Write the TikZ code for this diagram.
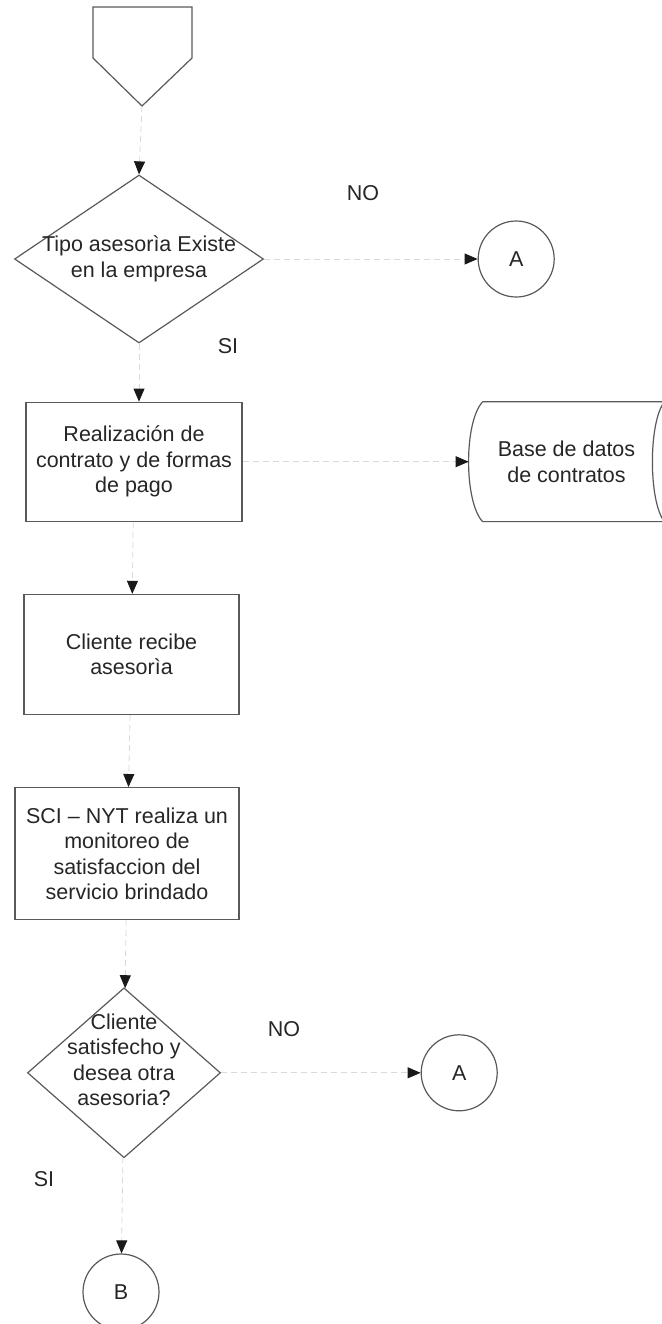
\documentclass[tikz,border=0pt]{standalone}
\usepackage{fontspec}
\setmainfont{Liberation Sans}
\usetikzlibrary{shapes.geometric,positioning,arrows.meta}

\begin{document}
\begin{tikzpicture}[x=0.5pt,y=-0.5pt,
    every node/.style={font=\fontsize{10.75pt}{12.75pt}\selectfont, text=black!85},
    forma/.style={draw=black!65, line width=0.6pt},
    proceso/.style={forma, rectangle, align=center, inner sep=0pt},
    decision/.style={forma, diamond, inner sep=0pt},
    circulo/.style={forma, circle, minimum size=38pt, inner sep=0pt},
    flujo/.style={draw=black!15, line width=0.4pt, densely dashed, -{Triangle[length=6.5pt,width=5.5pt,color=black!90]}},
    etiqueta/.style={inner sep=0pt}]
    \useasboundingbox (0,0) rectangle (661,1324);

    \coordinate (inicio) at (142,106);
    \draw[forma] (inicio) -- ++(-49,-48) -- ++(0,-51) -- ++(99,0) -- ++(0,51) -- cycle;

    \node[decision, minimum width=124.5pt, minimum height=84pt] (dec1) at (139,259) {};
    \node[align=center] at (dec1) {Tipo asesorìa Existe\\en la empresa};

    \node[proceso, minimum width=108pt, minimum height=59.5pt, below=29pt of dec1, xshift=-2.5pt] (proc1) {Realización de\\contrato y de formas\\de pago};
    \node[proceso, minimum width=107.5pt, minimum height=60pt, below=36pt of proc1, xshift=-1.25pt] (proc2) {Cliente recibe\\asesorìa};
    \node[proceso, minimum width=112pt, minimum height=66pt, below=36pt of proc2, xshift=-2.25pt] (proc3) {SCI – NYT realiza un\\monitoreo de\\satisfaccion del\\servicio brindado};

    \node[decision, minimum width=96.5pt, minimum height=85pt, below=33.5pt of proc3, xshift=-1.5pt] (dec2) {};
    \node[align=center, yshift=6.5pt] at (dec2) {Cliente\\satisfecho y\\desea otra\\asesoria?};

    \node[circulo, below=47.5pt of dec2, xshift=-1.5pt] (B) {B};
    \node[circulo, right=106.75pt of dec1] (A1) {A};
    \node[circulo, right=99.75pt of dec2] (A2) {A};

    \node[align=center, minimum width=97.5pt, minimum height=59.5pt, inner sep=0pt, right=113pt of proc1] (base) {Base de datos\\de contratos};
    \draw[forma] ([xshift=7pt]base.north west) -- (base.north east)
        .. controls +(-16,20) and +(-16,-20) .. (base.south east)
        -- ([xshift=7pt]base.south west)
        .. controls +(-18.7,-20) and +(-18.7,20) .. ([xshift=7pt]base.north west);

    \draw[flujo] (inicio) -- (dec1.north);
    \draw[flujo] (dec1) -- (A1);
    \draw[flujo] (dec1.south) -- (dec1.south |- proc1.north);
    \draw[flujo] (proc1) -- (base);
    \draw[flujo] (proc1) -- (proc2);
    \draw[flujo] (proc2) -- (proc3);
    \draw[flujo] (proc3) -- (dec2);
    \draw[flujo] (dec2) -- (A2);
    \draw[flujo] (dec2) -- (B);

    \node[etiqueta] at (363,193) {NO};
    \node[etiqueta] at (228,346) {SI};
    \node[etiqueta] at (284,1029) {NO};
    \node[etiqueta] at (44,1179) {SI};
\end{tikzpicture}
\end{document}
